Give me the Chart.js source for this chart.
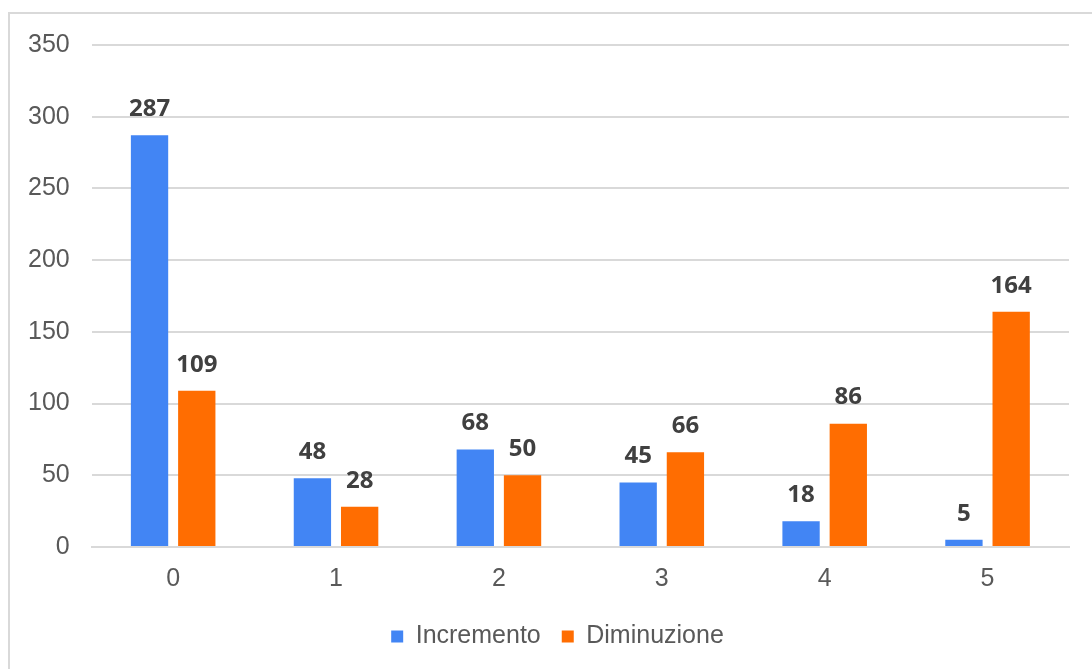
<!DOCTYPE html>
<html>
<head>
<meta charset="utf-8">
<script src="https://cdn.jsdelivr.net/npm/chart.js@4"></script>
<style>
  html, body { margin: 0; padding: 0; background: #fff; overflow: hidden; }
  #frame { position: absolute; left: 8px; top: 12px; width: 1200px; height: 800px; border: 2px solid #d9d9d9; }
  #c { position: absolute; left: 0; top: 0; }
</style>
</head>
<body>
<div id="frame"></div>
<canvas id="c" width="1092" height="669"></canvas>
<script>
// categories and values
var categories = ['0', '1', '2', '3', '4', '5'];
var incremento = [287, 48, 68, 45, 18, 5];
var diminuzione = [109, 28, 50, 66, 86, 164];
var yTicks = [0, 50, 100, 150, 200, 250, 300, 350];

// draws the bold value above each bar
var valueLabels = {
  id: 'valueLabels',
  afterDatasetsDraw: function (chart) {
    var ctx = chart.ctx;
    ctx.save();
    ctx.font = 'bold 24px "Open Sans", sans-serif';
    ctx.fillStyle = '#404040';
    ctx.textAlign = 'center';
    ctx.textBaseline = 'middle';
    chart.data.datasets.forEach(function (ds, i) {
      chart.getDatasetMeta(i).data.forEach(function (bar, j) {
        ctx.fillText(ds.data[j], bar.x, bar.y - 26);
      });
    });
    ctx.restore();
  }
};

// legend sits a bit right of the canvas centre in the original
var legendShift = {
  id: 'legendShift',
  afterLayout: function (chart) {
    if (chart.legend) chart.legend.left += 40;
  }
};

var axisFont = { family: '"Liberation Sans", Arial, sans-serif', size: 25 };

new Chart(document.getElementById('c'), {
  type: 'bar',
  data: {
    labels: categories,
    datasets: [{
      label: 'Incremento',
      data: incremento,
      backgroundColor: '#4285F4',
      categoryPercentage: 0.58,
      barPercentage: 0.79
    }, {
      label: 'Diminuzione',
      data: diminuzione,
      backgroundColor: '#FF6D01',
      categoryPercentage: 0.58,
      barPercentage: 0.79
    }]
  },
  options: {
    responsive: false,
    animation: false,
    layout: { padding: { left: 6, right: 23, top: 45, bottom: 10 } },
    plugins: {
      tooltip: { enabled: false },
      legend: {
        position: 'bottom',
        labels: {
          boxWidth: 12,
          boxHeight: 12,
          padding: 21,
          color: '#595959',
          font: axisFont
        }
      }
    },
    scales: {
      x: {
        grid: { display: false },
        border: { color: '#d9d9d9', width: 2 },
        ticks: {
          color: '#595959',
          padding: 9,
          font: axisFont
        }
      },
      y: {
        min: 0,
        max: 350,
        afterBuildTicks: function (axis) {
          axis.ticks = yTicks.map(function (v) { return { value: v }; });
        },
        grid: { color: '#d9d9d9', lineWidth: 2, drawTicks: false },
        border: { display: false },
        ticks: {
          color: '#595959',
          padding: 22,
          font: axisFont
        }
      }
    }
  },
  plugins: [valueLabels, legendShift]
});
</script>
</body>
</html>
